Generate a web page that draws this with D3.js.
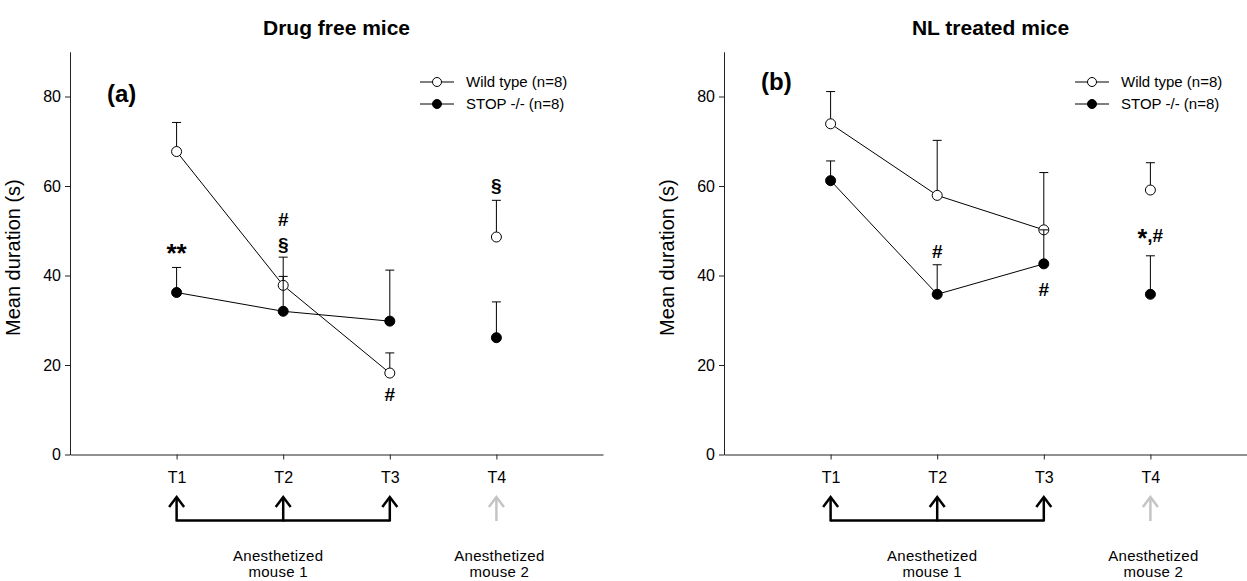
<!DOCTYPE html>
<html lang="en">
  <head>
    <meta charset="UTF-8" />
    <title>Drug free vs NL treated mice</title>
    <style>
      body { margin: 0; background: #fff; }
      svg { font-family: "Liberation Sans", Arial, sans-serif; }
    </style>
  </head>
  <body>
    <svg id="chart"></svg>
    <script src="https://d3js.org/d3.v7.min.js"></script>
    <script>
      // values: means and SEM (s)
      const times = ['T1', 'T2', 'T3', 'T4'];
      const yTicks = [0, 20, 40, 60, 80];
      const seriesNames = ['Wild type (n=8)', 'STOP -/- (n=8)'];

      const wildFree = [67.7, 37.8, 18.2, 48.6];
      const wildFreeSem = [6.5, 6.3, 4.5, 8.2];
      const stopFree = [36.2, 32.0, 29.8, 26.1];
      const stopFreeSem = [5.6, 7.8, 11.4, 8.0];

      const wildNL = [73.9, 57.9, 50.2, 59.1];
      const wildNLSem = [7.2, 12.3, 12.8, 6.1];
      const stopNL = [61.2, 35.8, 42.6, 35.8];
      const stopNLSem = [4.4, 6.6, 7.6, 8.6];

      // significance marks: [time index, y value at glyph centre, text]
      const marksFree = [
        [0, 46.6, '**'],
        [1, 52.6, '#'],
        [1, 47.0, '§'],
        [2, 13.4, '#'],
        [3, 60.2, '§'],
      ];
      const marksNL = [
        [1, 45.4, '#'],
        [2, 36.9, '#'],
        [3, 49.3, '*,#'],
      ];

      const width = 1247;
      const height = 581;
      const svg = d3.select('#chart').attr('width', width).attr('height', height);

      function drawPanel(cfg) {
        let g = svg.append('g');
        let x = d3.scaleLinear().domain([0, 5]).range([cfg.left, cfg.left + 533]);
        let y = d3.scaleLinear().domain([0, 90]).range([454.5, 51.75]);

        // axes
        let axisY = d3.axisLeft(y).tickValues(yTicks).tickSize(5).tickPadding(4).tickSizeOuter(0);
        let gy = g.append('g').attr('transform', `translate(${cfg.left},0)`).call(axisY);
        let axisX = d3
          .axisBottom(x)
          .tickValues([1, 2, 3, 4])
          .tickFormat((d) => times[d - 1])
          .tickSize(5)
          .tickPadding(12)
          .tickSizeOuter(0);
        let gx = g.append('g').attr('transform', `translate(0,${y(0)})`).call(axisX);
        [gx, gy].forEach((a) => {
          a.selectAll('path, line').attr('stroke', '#222');
          a.selectAll('text').attr('fill', '#000').style('font-size', '16px').attr('font-family', null);
        });

        g.append('text')
          .attr('x', x(2.5))
          .attr('y', 35)
          .attr('text-anchor', 'middle')
          .style('font-size', '21px')
          .style('font-weight', 'bold')
          .text(cfg.title);

        g.append('text')
          .attr('transform', `translate(${cfg.left - 50},${y(44)}) rotate(-90)`)
          .attr('text-anchor', 'middle')
          .style('font-size', '20px')
          .text('Mean duration (s)');

        g.append('text')
          .attr('x', cfg.left + 37)
          .attr('y', cfg.labelY)
          .style('font-size', '24px')
          .style('font-weight', 'bold')
          .text(cfg.label);

        // series: wild type (open) first, STOP (filled) on top
        cfg.series.forEach((s) => {
          let pts = s.values.map((v, i) => ({ t: i + 1, v, top: v + s.sem[i] }));
          g.append('path')
            .datum(pts.slice(0, 3))
            .attr('fill', 'none')
            .attr('stroke', '#000')
            .attr('stroke-width', 1)
            .attr('d', d3.line().x((d) => x(d.t)).y((d) => y(d.v)));

          let err = g.selectAll(null).data(pts).enter().append('g');
          err.append('line')
            .attr('x1', (d) => x(d.t)).attr('x2', (d) => x(d.t))
            .attr('y1', (d) => y(d.v)).attr('y2', (d) => y(d.top))
            .attr('stroke', '#000');
          err.append('line')
            .attr('x1', (d) => x(d.t) - 4.5).attr('x2', (d) => x(d.t) + 4.5)
            .attr('y1', (d) => y(d.top)).attr('y2', (d) => y(d.top))
            .attr('stroke', '#000');

          g.selectAll(null)
            .data(pts)
            .enter()
            .append('circle')
            .attr('cx', (d) => x(d.t))
            .attr('cy', (d) => y(d.v))
            .attr('r', 5)
            .attr('fill', s.fill)
            .attr('stroke', '#000');
        });

        // significance marks, asterisks drawn larger
        let marks = g.selectAll(null)
          .data(cfg.marks)
          .enter()
          .append('text')
          .attr('x', (d) => x(d[0] + 1))
          .attr('y', (d) => y(d[1]))
          .attr('text-anchor', 'middle')
          .style('font-weight', 'bold');
        marks.each(function (d) {
          let t = d3.select(this);
          if (d[2] === '*,#') {
            t.style('font-size', '19px');
            t.append('tspan').style('font-size', '25px').attr('dy', '13px').text('*');
            t.append('tspan').style('font-size', '19px').attr('dy', '-5px').text(',#');
          } else if (d[2] === '**') {
            t.style('font-size', '26px').attr('dy', '0.62em').text(d[2]);
          } else {
            t.style('font-size', '19px').attr('dy', '0.36em').text(d[2]);
          }
        });

        // legend
        let leg = g.append('g');
        cfg.series.forEach((s, i) => {
          let ly = 82 + i * 22;
          leg.append('line')
            .attr('x1', cfg.legendX).attr('x2', cfg.legendX + 34)
            .attr('y1', ly).attr('y2', ly)
            .attr('stroke', '#000');
          leg.append('circle')
            .attr('cx', cfg.legendX + 17).attr('cy', ly).attr('r', 4.5)
            .attr('fill', s.fill).attr('stroke', '#000');
          leg.append('text')
            .attr('x', cfg.legendX + 46).attr('y', ly + 5)
            .style('font-size', '15px')
            .text(seriesNames[i]);
        });

        // anesthetized-mouse arrows under the axis
        let arrows = g.append('g').attr('fill', 'none').attr('stroke-width', 2.5);
        [1, 2, 3, 4].forEach((t) => {
          let col = t === 4 ? '#c4c4c4' : '#000';
          arrows.append('line')
            .attr('x1', x(t)).attr('x2', x(t))
            .attr('y1', 497).attr('y2', t === 4 ? 521 : 521.5)
            .attr('stroke', col);
          arrows.append('polyline')
            .attr('points', `${x(t) - 7.5},507 ${x(t)},497 ${x(t) + 7.5},507`)
            .attr('stroke', col);
        });
        arrows.append('line')
          .attr('x1', x(1)).attr('x2', x(3))
          .attr('y1', 520.5).attr('y2', 520.5)
          .attr('stroke', '#000');

        [[x(2) - 5, '1'], [x(4) + 3, '2']].forEach((a) => {
          let t = g.append('text')
            .attr('text-anchor', 'middle')
            .style('font-size', '15px')
            .style('letter-spacing', '0.3px');
          t.append('tspan').attr('x', a[0]).attr('y', 561).text('Anesthetized');
          t.append('tspan').attr('x', a[0]).attr('y', 577).text('mouse ' + a[1]);
        });
      }

      drawPanel({
        left: 70,
        title: 'Drug free mice',
        label: '(a)',
        labelY: 102,
        legendX: 420,
        marks: marksFree,
        series: [
          { values: wildFree, sem: wildFreeSem, fill: '#fff' },
          { values: stopFree, sem: stopFreeSem, fill: '#000' },
        ],
      });

      drawPanel({
        left: 724,
        title: 'NL treated mice',
        label: '(b)',
        labelY: 90,
        legendX: 1075,
        marks: marksNL,
        series: [
          { values: wildNL, sem: wildNLSem, fill: '#fff' },
          { values: stopNL, sem: stopNLSem, fill: '#000' },
        ],
      });
    </script>
  </body>
</html>
